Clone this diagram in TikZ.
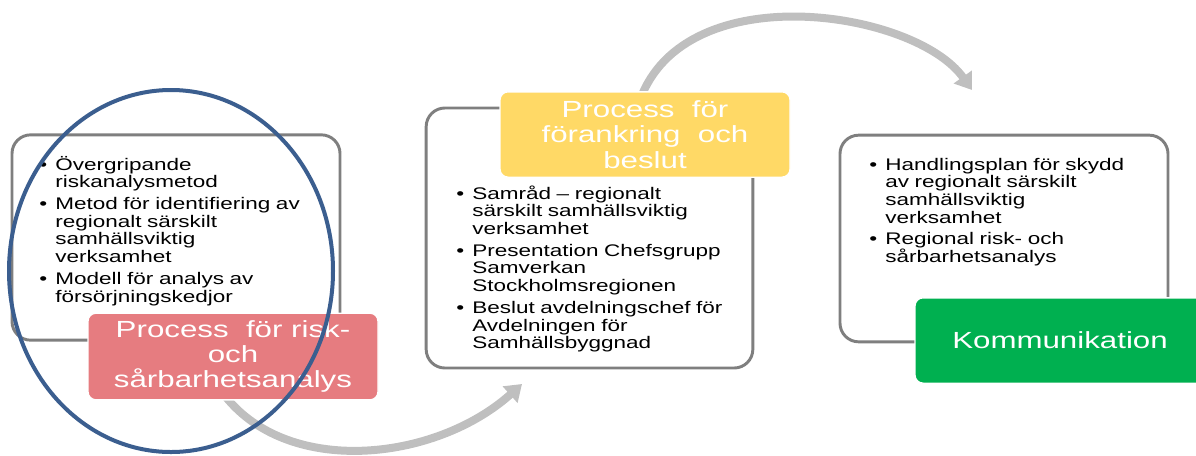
\documentclass[tikz,border=0pt]{standalone}
\usepackage{fontspec}
\setmainfont{Liberation Sans}[FakeStretch=1.34]
\usepackage{enumitem}
\usetikzlibrary{arrows.meta}

\definecolor{panelgray}{HTML}{7F7F7F}
\definecolor{arrowgray}{HTML}{BFBFBF}
\definecolor{riskred}{HTML}{E67C80}
\definecolor{forankyellow}{HTML}{FFD966}
\definecolor{kommgreen}{HTML}{00B050}
\definecolor{ovalblue}{HTML}{3B5E8F}

\setlist[itemize]{nosep, leftmargin=11.25pt, labelsep=6pt, itemsep=3pt, label=\textbullet}

\tikzset{
  panel/.style={draw=panelgray, line width=2.2pt, rounded corners=14pt, fill=white},
  titlebox/.style={draw=white, line width=1pt, rounded corners=6pt, text=white, align=center,
    font=\fontsize{17.5pt}{19pt}\selectfont, inner sep=0pt},
  bullets/.style={anchor=north west, inner sep=0pt, text width=230pt,
    font=\fontsize{12.6pt}{13.3pt}\selectfont},
  cyclearrow/.style={draw=arrowgray, line width=6pt, -{Triangle[width=16pt,length=12pt]}},
}

\begin{document}
\begin{tikzpicture}[x=0.75pt, y=-0.75pt, line join=round]
    \useasboundingbox (0,0) rectangle (1196,455);
    \coordinate (low-start) at (222,392);
    \coordinate (low-end) at (522,384);
    \coordinate (top-start) at (640,100);
    \coordinate (top-end) at (972,90);
    \draw[cyclearrow] (low-start) .. controls (285,478) and (435,462) .. (low-end);
    \draw[cyclearrow] (top-start) .. controls (685,-25) and (915,10) .. (top-end);

    \node[panel, minimum width=246pt, minimum height=154pt] (risk) at (176,237.5) {};
    \node[panel, minimum width=245pt, minimum height=195pt] (forank) at (589.5,238) {};
    \node[panel, minimum width=246pt, minimum height=155pt] (komm) at (1004,238.5) {};

    \node[bullets] (risk-list) at (40,152) {%
      \begin{itemize}
        \item Övergripande\\riskanalysmetod
        \item Metod för identifiering av\\regionalt särskilt\\samhällsviktig\\verksamhet
        \item Modell för analys av\\försörjningskedjor
      \end{itemize}};
    \node[bullets] (forank-list) at (457,181) {%
      \begin{itemize}
        \item Samråd – regionalt\\särskilt samhällsviktig\\verksamhet
        \item Presentation Chefsgrupp\\Samverkan\\Stockholmsregionen
        \item Beslut avdelningschef för\\Avdelningen för\\Samhällsbyggnad
      \end{itemize}};
    \node[bullets] (komm-list) at (870,152) {%
      \begin{itemize}
        \item Handlingsplan för skydd\\av regionalt särskilt\\samhällsviktig\\verksamhet
        \item Regional risk- och\\sårbarhetsanalys
      \end{itemize}};

    \node[titlebox, fill=riskred, minimum width=217.5pt, minimum height=65pt] (risk-title) at (233,356.5)
      {Process\ \ för risk-\\och\\sårbarhetsanalys};
    \node[titlebox, fill=forankyellow, minimum width=217.5pt, minimum height=64pt] (forank-title) at (645,134.5)
      {Process\ \ för\\förankring\ \ och\\beslut};
    \node[titlebox, fill=kommgreen, minimum width=217.5pt, minimum height=64pt] (komm-title) at (1060,340.5)
      {Kommunikation};

    \draw[ovalblue, line width=3pt] (171,271) ellipse [x radius=162, y radius=181];
\end{tikzpicture}
\end{document}
